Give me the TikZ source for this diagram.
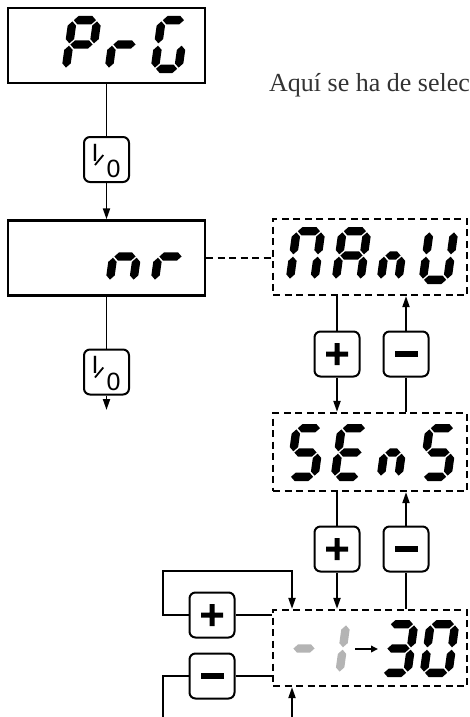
\documentclass[tikz,border=0pt]{standalone}
\usepackage{fontspec}
\setmainfont{Liberation Serif}
\newfontfamily\btnfont{Liberation Sans}
\usetikzlibrary{arrows.meta}
\definecolor{textgrey}{HTML}{333333}
\definecolor{seggrey}{HTML}{B4B4B4}

% seven-segment helpers (segment thickness 8.4)
\newcommand\hseg[3]{\fill (#1,#3) -- ({#1+4.2},{#3+4.2}) -- ({#2-4.2},{#3+4.2}) -- (#2,#3) -- ({#2-4.2},{#3-4.2}) -- ({#1+4.2},{#3-4.2}) -- cycle;}
\newcommand\vseg[3]{\fill (#1,#2) -- ({#1+4.2},{#2+4.2}) -- ({#1+4.2},{#3-4.2}) -- (#1,#3) -- ({#1-4.2},{#3-4.2}) -- ({#1-4.2},{#2+4.2}) -- cycle;}
\newcommand\SgA{\hseg{5.4}{\W-5.4}{52.8}}
\newcommand\SgG{\hseg{5.4}{\W-5.4}{28.5}}
\newcommand\SgD{\hseg{5.4}{\W-5.4}{4.2}}
\newcommand\SgF{\vseg{4.2}{29.7}{51.6}}
\newcommand\SgE{\vseg{4.2}{5.4}{27.3}}
\newcommand\SgB{\vseg{\W-4.2}{29.7}{51.6}}
\newcommand\SgC{\vseg{\W-4.2}{5.4}{27.3}}
% #1 colour, #2 x origin, #3 y bottom (down), #4 width, #5 segments
\newcommand\sevenseg[5][black]{\begin{scope}[shift={(#2,-#3)},xslant=0.14,fill=#1]\def\W{#4}#5\end{scope}}

\begin{document}
\begin{tikzpicture}[x=1pt,y=1pt,
  box/.style={draw,line width=2.3pt,minimum width=197pt,minimum height=75pt,inner sep=0pt},
  dbox/.style={draw,line width=2.2pt,dash pattern=on 7pt off 4.5pt,inner sep=0pt,minimum width=194pt,minimum height=76pt},
  btn/.style={draw,line width=2pt,rounded corners=6pt,minimum width=45pt,minimum height=45pt,inner sep=0pt},
  plusbtn/.style={btn,path picture={\fill[sharp corners,shift={(path picture bounding box.center)}] (-11,-2.5) rectangle (11,2.5) (-2.5,-11) rectangle (2.5,11);}},
  minusbtn/.style={btn,path picture={\fill[sharp corners,shift={(path picture bounding box.center)}] (-11.5,-3.3) rectangle (11.5,3.3);}},
  iotxt/.style={inner sep=0pt,font=\btnfont\fontsize{25}{25}\selectfont},
  conn/.style={line width=1.9pt},
  arr/.style={conn,-{Triangle[length=11pt,width=7pt]}},
  dconn/.style={line width=2.2pt,dash pattern=on 7pt off 4.5pt},
]
\useasboundingbox (0,0) rectangle (469,-717);
\clip (0,0) rectangle (469,-717);

% caption
\node[anchor=base west,inner sep=0pt,text=textgrey,font=\fontsize{26}{26}\selectfont] (caption) at (269,-91) {Aquí se ha de selec};

% displays
\node[box] (prg) at (106.5,-45.5) {};
\node[box] (nr) at (106.5,-258) {};
\node[dbox] (manu) at (370,-257) {};
\node[dbox,minimum height=78pt] (sens) at (370,-452) {};
\node[dbox] (val) at (370,-648) {};

% buttons
\node[btn] (io1) at (106.5,-159.5) {};
\node[btn] (io2) at (106.5,-372) {};
\node[plusbtn] (p1) at (337,-354) {};
\node[minusbtn] (m1) at (406,-354) {};
\node[plusbtn] (p2) at (337,-549) {};
\node[minusbtn] (m2) at (406,-549) {};
\node[plusbtn] (pl) at (212,-615) {};
\node[minusbtn] (ml) at (212,-676) {};

% I/0 symbols
\foreach \b in {io1,io2}{
  \begin{scope}[shift={(\b.center)}]
    \node[iotxt] (\b I) at (-11.5,7) {I};
    \node[iotxt] (\b O) at (7,-9.5) {0};
    \draw[line width=1.8pt] (-11.5,-5.5) -- (-3.2,4.5);
  \end{scope}
}

% digits
\sevenseg{61}{73}{33}{\SgA\SgB\SgF\SgG\SgE}
\sevenseg{104}{73}{33}{\SgE\SgG}
\sevenseg{150}{73}{32}{\SgA\SgF\SgE\SgD\SgC}

\sevenseg{105}{285}{32}{\SgE\SgG\SgC}
\sevenseg{150}{285}{33}{\SgE\SgG}

\sevenseg{285}{284}{33}{\SgA\SgB\SgC\SgE\SgF}
\sevenseg{331}{284}{33}{\SgA\SgB\SgC\SgE\SgF\SgG}
\sevenseg{376}{284}{26}{\SgE\SgG\SgC}
\sevenseg{418}{284}{33}{\SgB\SgC\SgD\SgE\SgF}

\sevenseg{285}{481}{33}{\SgA\SgF\SgG\SgC\SgD}
\sevenseg{330}{481}{33}{\SgA\SgF\SgG\SgE\SgD}
\sevenseg{376}{481}{26}{\SgE\SgG\SgC}
\sevenseg{418}{481}{33}{\SgA\SgF\SgG\SgC\SgD}

\sevenseg[seggrey]{284}{677}{32}{\SgG}
\sevenseg[seggrey]{311}{677}{32}{\SgB\SgC}
\sevenseg{378}{677}{33}{\SgA\SgB\SgG\SgC\SgD}
\sevenseg{419}{677}{33}{\SgA\SgB\SgC\SgD\SgE\SgF}

\coordinate (sa1) at (355,-649);
\coordinate (sa2) at (378,-649);
\draw[line width=2pt,-{Triangle[length=7pt,width=6.5pt]}] (sa1) -- (sa2);

% left column
\draw[conn] (prg.south) -- (io1.north);
\draw[arr] (io1.south) -- (nr.north);
\draw[conn] (nr.south) -- (io2.north);
\coordinate (out) at (106.5,-410);
\draw[arr] (io2.south) -- (out);
\draw[dconn] (nr.east) -- (nr.east -| manu.west);

% right column
\draw[conn] (manu.south -| p1) -- (p1.north);
\draw[arr] (p1.south) -- (p1.south |- sens.north);
\draw[conn] (sens.north -| m1) -- (m1.south);
\draw[arr] (m1.north) -- (m1.north |- manu.south);
\draw[conn] (sens.south -| p2) -- (p2.north);
\draw[arr] (p2.south) -- (p2.south |- val.north);
\draw[conn] (val.north -| m2) -- (m2.south);
\draw[arr] (m2.north) -- (m2.north |- sens.south);

% loops on the last display
\coordinate (loopL) at (163,-571);
\coordinate (loopR) at (292,-571);
\draw[conn] (pl.east) -- (pl.east -| val.west);
\draw[arr] (pl.west) -| (loopL) -- (loopR) -- (loopR |- val.north);
\coordinate (botL) at (163,-717);
\coordinate (botR) at (292,-717);
\draw[conn] (ml.east) -- (ml.east -| val.west);
\draw[conn] (ml.west) -| (botL);
\draw[arr] (botR) -- (botR |- val.south);
\end{tikzpicture}
\end{document}
